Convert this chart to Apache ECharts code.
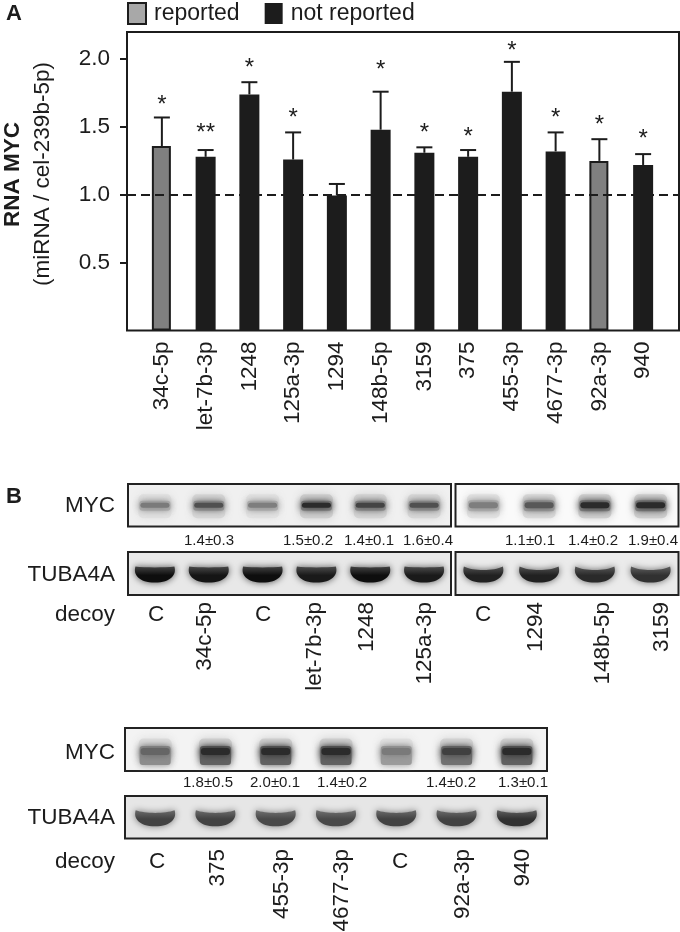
<!DOCTYPE html>
<html><head><meta charset="utf-8">
<style>html,body{margin:0;padding:0;background:#fff}#c{width:680px;height:932px}</style>
<script src="https://cdn.jsdelivr.net/npm/echarts@6/dist/echarts.min.js"></script>
</head><body><div id="c"></div>
<script>
// ---- Panel A data
const mirnas = ['34c-5p','let-7b-3p','1248','125a-3p','1294','148b-5p','3159','375','455-3p','4677-3p','92a-3p','940'];
const reportedValues = [1.36,null,null,null,null,null,null,null,null,null,1.25,null];
const notReportedValues = [null,1.28,1.74,1.26,0.995,1.48,1.31,1.28,1.76,1.32,null,1.22];
const errorTops = [1.57,1.33,1.83,1.46,1.08,1.76,1.35,1.33,1.98,1.46,1.41,1.30];
const significance = ['*','**','*','*','','*','*','*','*','*','*','*'];
const significanceLevels = [1.69,1.48,1.96,1.59,0,1.95,1.48,1.45,2.085,1.59,1.54,1.44];
const yTicks = [0.5,1.0,1.5,2.0];
const referenceLevel = [1.0];
// ---- Panel B data: lanes and band strengths
const lanes1a = ['C','34c-5p','C','let-7b-3p','1248','125a-3p'];
const lanes1b = ['C','1294','148b-5p','3159'];
const lanes2 = ['C','375','455-3p','4677-3p','C','92a-3p','940'];
const myc1a = [0.62,0.82,0.60,1.0,0.88,0.82];
const myc1b = [0.60,0.78,1.0,1.0];
const myc2 = [0.72,1.0,1.0,1.0,0.62,0.9,1.0];
const tuba1a = [1,0.97,1,0.95,1,0.95];
const tuba1b = [0.92,0.92,0.88,0.85];
const tuba2 = [0.78,0.78,0.75,0.75,0.78,0.78,0.85];
const ratios1a = ['1.4±0.3','1.5±0.2','1.4±0.1','1.6±0.4'];
const ratios1b = ['1.1±0.1','1.4±0.2','1.9±0.4'];
const ratios2 = ['1.8±0.5','2.0±0.1','1.4±0.2','1.4±0.2','1.3±0.1'];

// ---- layout constants
const FONT = '"Liberation Sans", Arial, sans-serif';
const INK = '#1c1c1c';
const TXT = 22.5;
const ratioX1 = [209,308,369,428,530,593,653], ratioX2 = [208,275,342,451,523];
const laneX1 = [156,205,263,315,367,425,483,536,603,662], laneX2 = [157,218,282,342,400,463,523];
const gray = v => { const g=Math.round(v); return `rgb(${g},${g},${g})`; };

const grids = [
  {left:127,top:32,width:552,height:298.5,show:true,borderColor:INK,borderWidth:2,backgroundColor:'#fff'},
  {left:140,top:32,width:525,height:298.5}
];
const xAxes = [
  {gridIndex:0,type:'value',min:0,max:1,show:false},
  {gridIndex:1,type:'category',data:mirnas,axisLine:{show:false},axisTick:{show:false},
   axisLabel:{rotate:90,interval:0,margin:11,fontFamily:FONT,fontSize:TXT,color:INK}}
];
const yAxes = [
  {gridIndex:0,type:'value',min:0,max:2.2,splitLine:{show:false},
   axisLine:{show:false},
   axisTick:{show:true,length:7,lineStyle:{color:INK,width:2},customValues:yTicks},
   axisLabel:{fontFamily:FONT,fontSize:TXT,color:INK,margin:17,customValues:yTicks,formatter:v=>v.toFixed(1)}},
  {gridIndex:1,type:'value',min:0,max:2.2,show:false}
];

const series = [
  {type:'bar',name:'reported',xAxisIndex:1,yAxisIndex:1,data:reportedValues,barWidth:19,barGap:'-100%',
   itemStyle:{color:'#808080',borderColor:INK,borderWidth:2}},
  {type:'bar',name:'not reported',xAxisIndex:1,yAxisIndex:1,data:notReportedValues,barWidth:20,barGap:'-100%',
   itemStyle:{color:INK}},
  {type:'custom',xAxisIndex:1,yAxisIndex:1,z:3,silent:true,
   data:mirnas.map((m,i)=>[i,Math.max(reportedValues[i]||0,notReportedValues[i]||0),errorTops[i]]),
   encode:{x:0,y:2},
   renderItem(p,api){
     const a=api.coord([api.value(0),api.value(1)]),b=api.coord([api.value(0),api.value(2)]);
     const s={stroke:INK,lineWidth:2,fill:null};
     return {type:'group',children:[
       {type:'line',shape:{x1:a[0],y1:a[1],x2:b[0],y2:b[1]},style:s},
       {type:'line',shape:{x1:b[0]-8,y1:b[1],x2:b[0]+8,y2:b[1]},style:s}
     ]};
   }},
  {type:'custom',xAxisIndex:1,yAxisIndex:1,z:4,silent:true,
   data:mirnas.map((m,i)=>[i,significanceLevels[i]]),encode:{x:0,y:1},
   renderItem(p,api){
     const i=api.value(0),c=api.coord([i,api.value(1)]);
     return {type:'text',style:{text:significance[i],x:c[0],y:c[1]+4,align:'center',verticalAlign:'middle',
       font:'24px '+FONT,fill:INK}};
   }},
  {type:'line',xAxisIndex:0,yAxisIndex:0,z:5,data:[],silent:true,showSymbol:false,
   markLine:{silent:true,symbol:'none',label:{show:false},animation:false,
     lineStyle:{color:INK,width:2,type:[9,5]},data:referenceLevel.map(v=>({yAxis:v}))}}
];

function addBlot(kind,lanes,values,box,bg,o={}){
  const gi=grids.length;
  grids.push({left:box[0],top:box[1],width:box[2],height:box[3],show:true,backgroundColor:bg,borderColor:'#222',borderWidth:2});
  xAxes.push({gridIndex:gi,type:'category',data:lanes.map((l,i)=>i+':'+l),show:false});
  yAxes.push({gridIndex:gi,type:'value',min:-1,max:1,show:false});
  const core=o.core||6, shift=o.shift||0, dip=o.dip||22, low=o.low||0.5;
  series.push({type:'custom',xAxisIndex:gi,yAxisIndex:gi,clip:true,silent:true,z:2,
    data:values.map((v,i)=>[i,0,v]),encode:{x:0,y:1},
    renderItem(p,api){
      const c=api.coord([api.value(0),0]),v=api.value(2);
      const ink=235*(1-v)+14;
      const kids=[];
      if(kind==='myc'){
        const w=33,cy=c[1]+shift;
        const smear=gray(255-(255-ink)*0.20), body=gray(255-(255-ink)*low), dark=gray(ink+(255-ink)*0.12);
        kids.push({type:'rect',shape:{x:c[0]-w/2,y:c[1]-11,width:w,height:24,r:5},
          style:{fill:smear,shadowBlur:10,shadowColor:smear}});
        kids.push({type:'rect',shape:{x:c[0]-w/2+1,y:cy-core/2-2,width:w-2,height:core+(o.tail||5),r:3},
          style:{fill:body,shadowBlur:7,shadowColor:body}});
        kids.push({type:'rect',shape:{x:c[0]-w/2+2,y:cy-core/2,width:w-4,height:core,r:3},
          style:{fill:dark,shadowBlur:7,shadowColor:dark}});
      } else {
        const w=40,h=16;
        const top=gray(ink+(255-ink)*0.22), col=gray(ink);
        kids.push({type:'path',shape:{pathData:`M2 8 C25 ${dip},75 ${dip},98 8 C104 35,90 62,50 62 C10 62,-4 35,2 8 Z`,
          x:c[0]-w/2,y:c[1]-h/2+1,width:w,height:h,layout:'cover'},
          style:{fill:new echarts.graphic.LinearGradient(0,0,0,1,[{offset:0,color:top},{offset:0.55,color:col},{offset:1,color:col}]),
            shadowBlur:7,shadowColor:gray(ink+(255-ink)*0.25)}});
      }
      return {type:'group',children:kids};
    }});
}
addBlot('myc',lanes1a,myc1a,[128,484,323,42.5],'#f0f0f0',{core:5});
addBlot('myc',lanes1b,myc1b,[455.5,484,223,42.5],'#fafafa',{core:6});
addBlot('tuba',lanes1a,tuba1a,[128,552,323,43],'#e8e8e8',{dip:12});
addBlot('tuba',lanes1b,tuba1b,[455.5,552,223,43],'#ebebeb',{dip:24});
addBlot('myc',lanes2,myc2,[125,728,422,43],'#f3f3f3',{core:7,shift:2,tail:12,low:0.65});
addBlot('tuba',lanes2,tuba2,[125,796,422,42.5],'#e6e6e6',{dip:20});

// ---- static text
const graphic=[];
function txt(text,x,y,size,o={}){
  graphic.push({type:'text',x,y,rotation:o.rot||0,silent:true,
    style:{text,font:(o.bold?'bold ':'')+size+'px '+FONT,fill:INK,align:o.align||'center',verticalAlign:o.va||'middle'}});
}
txt('A',14,14,22,{bold:true});
txt('B',14,497,22,{bold:true});
txt('RNA MYC',13,174.5,22.5,{bold:true,rot:Math.PI/2});
txt('(miRNA / cel-239b-5p)',43,174,TXT,{rot:Math.PI/2});
[['MYC',506],['TUBA4A',575],['decoy',615],['MYC',753],['TUBA4A',818],['decoy',862]].forEach(r=>txt(r[0],115,r[1],TXT,{align:'right'}));
ratios1a.concat(ratios1b).forEach((t,i)=>txt(t,ratioX1[i],541,15));
ratios2.forEach((t,i)=>txt(t,ratioX2[i],783,15));
function laneLabels(names,xs,top,cY){
  names.forEach((n,i)=>{
    if(n==='C') txt(n,xs[i],cY,TXT);
    else txt(n,xs[i],top,TXT,{rot:Math.PI/2,align:'right'});
  });
}
laneLabels(lanes1a.concat(lanes1b),laneX1,602,615);
laneLabels(lanes2,laneX2,849,862);

echarts.init(document.getElementById('c'),null,{renderer:'canvas'}).setOption({
  animation:false,
  legend:{left:127,top:2,padding:0,itemWidth:18,itemHeight:21,itemGap:25,selectedMode:false,
    textStyle:{fontFamily:FONT,fontSize:23,color:INK,padding:[4,0,0,3]},
    data:[{name:'reported',icon:'rect',itemStyle:{color:'#a8a8a8',borderColor:INK,borderWidth:2}},
          {name:'not reported',icon:'rect',itemStyle:{color:INK}}]},
  grid:grids,xAxis:xAxes,yAxis:yAxes,series,graphic
});
</script></body></html>
